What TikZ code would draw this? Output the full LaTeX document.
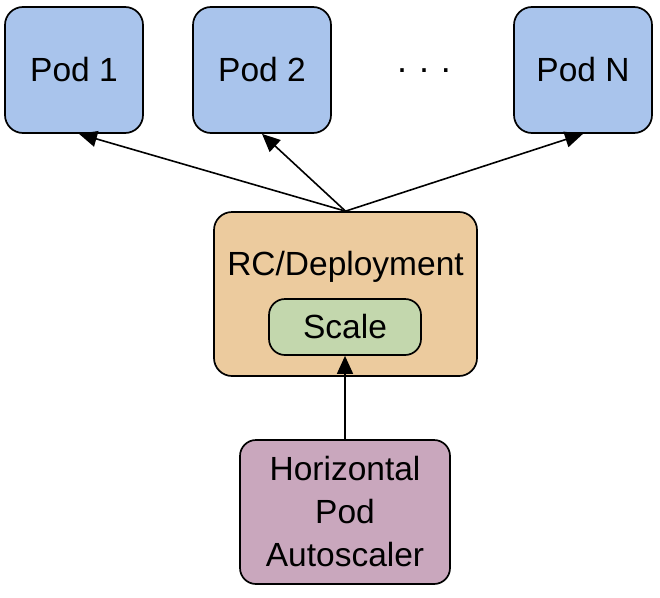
\documentclass[tikz,border=0pt]{standalone}
\usepackage{fontspec}
\setmainfont{Liberation Sans}
\usetikzlibrary{arrows.meta}
\definecolor{podblue}{HTML}{A9C4EC}
\definecolor{rcorange}{HTML}{ECCB9E}
\definecolor{scalegreen}{HTML}{C3D7AD}
\definecolor{hpapink}{HTML}{C9A7BD}
\begin{document}
\begin{tikzpicture}[x=1pt,y=-1pt,
  box/.style={draw=black,line width=1.7pt,rounded corners=18pt,inner sep=0pt,font=\fontsize{33.5}{43}\selectfont,align=center},
  pod/.style={box,fill=podblue,minimum width=138pt,minimum height=126pt},
  conn/.style={line width=1.6pt,-{Triangle[length=18pt,width=16pt]}}]
\useasboundingbox (0,0) rectangle (660,597);
\node[pod] (pod1) at (74,70) {Pod 1};
\node[pod] (pod2) at (262,70) {Pod 2};
\node[pod] (podn) at (583,70) {Pod N};
\node[font=\fontsize{36}{40}\selectfont] (dots) at (424,71) {.\,\,.\,\,.};
\node[box,fill=rcorange,minimum width=263pt,minimum height=164pt] (rc) at (345.5,294) {};
\node[font=\fontsize{33.5}{43}\selectfont,inner sep=0pt] (rctext) at (345.5,267) {RC/Deployment};
\node[box,fill=scalegreen,rounded corners=16pt,minimum width=152pt,minimum height=56pt] (scale) at (345,327) {Scale};
\node[box,fill=hpapink,rounded corners=16pt,minimum width=210pt,minimum height=144pt] (hpa) at (345,512) {Horizontal\\Pod\\Autoscaler};
\draw[conn] (rc.north) -- ([xshift=5pt]pod1.south);
\draw[conn] (rc.north) -- (pod2.south);
\draw[conn] (rc.north) -- (podn.south);
\draw[conn] (hpa.north) -- (scale.south);
\end{tikzpicture}
\end{document}
